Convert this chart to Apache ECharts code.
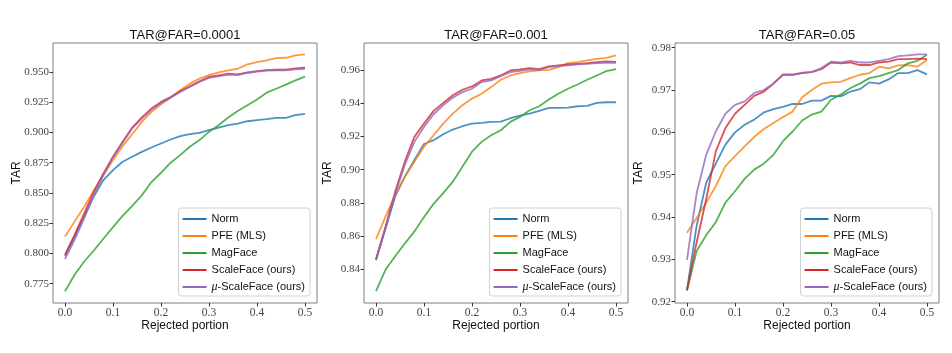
<!DOCTYPE html>
<html>
<head>
<meta charset="utf-8">
<script src="https://cdn.jsdelivr.net/npm/echarts@6/dist/echarts.min.js"></script>
<style>
  html, body { margin: 0; padding: 0; background: #fff; }
  #chart { width: 952px; height: 353px; }
</style>
</head>
<body>
<div id="chart"></div>
<script>
var rejected = [0, 0.02, 0.04, 0.06, 0.08, 0.10, 0.12, 0.14, 0.16, 0.18, 0.20, 0.22, 0.24,
                0.26, 0.28, 0.30, 0.32, 0.34, 0.36, 0.38, 0.40, 0.42, 0.44, 0.46, 0.48, 0.50]
var methods = ["Norm", "PFE (MLS)", "MagFace", "ScaleFace (ours)", "μ-ScaleFace (ours)"]
var colors = ["#1f77b4", "#ff7f0e", "#2ca02c", "#d62728", "#9467bd"]
var titles = ["TAR@FAR=0.0001", "TAR@FAR=0.001", "TAR@FAR=0.05"]

// TAR@FAR=0.0001
var norm1 = [0.798, 0.814, 0.8305, 0.847, 0.8607, 0.8689, 0.8758, 0.8799, 0.884, 0.8876, 0.8909, 0.8942, 0.897,
             0.8986, 0.8997, 0.9019, 0.9041, 0.906, 0.9074, 0.9093, 0.9102, 0.911, 0.9121, 0.9121, 0.9143, 0.9154]
var pfe1 = [0.814, 0.8263, 0.8387, 0.8519, 0.8648, 0.8772, 0.8887, 0.8986, 0.9088, 0.917, 0.9233, 0.9288, 0.9349,
            0.9404, 0.9445, 0.9475, 0.9497, 0.9514, 0.9527, 0.9563, 0.9582, 0.9596, 0.9615, 0.9618, 0.9637, 0.9646]
var mag1 = [0.7686, 0.7824, 0.7933, 0.8024, 0.8121, 0.8217, 0.831, 0.8393, 0.848, 0.859, 0.8667, 0.875, 0.8813,
            0.8882, 0.8937, 0.9005, 0.906, 0.9124, 0.9178, 0.9225, 0.9272, 0.9329, 0.9362, 0.9396, 0.9431, 0.9462]
var scale1 = [0.7989, 0.8153, 0.8332, 0.8511, 0.8662, 0.8799, 0.8923, 0.9041, 0.9124, 0.9198, 0.9253, 0.9294, 0.9341,
              0.9382, 0.9423, 0.9459, 0.9473, 0.9486, 0.9481, 0.9497, 0.9508, 0.9516, 0.9519, 0.9519, 0.953, 0.9536]
var mu1 = [0.7953, 0.8112, 0.8291, 0.8483, 0.8648, 0.8794, 0.8915, 0.9033, 0.9115, 0.9189, 0.9244, 0.9288, 0.9335,
           0.9376, 0.9418, 0.9451, 0.9464, 0.9478, 0.9475, 0.9492, 0.9503, 0.9511, 0.9514, 0.9514, 0.9522, 0.9527]

// TAR@FAR=0.001
var norm2 = [0.846, 0.8649, 0.8839, 0.8958, 0.9058, 0.9154, 0.9177, 0.9213, 0.9241, 0.9261, 0.9277, 0.9281, 0.9287,
             0.9289, 0.9309, 0.9325, 0.9337, 0.9353, 0.9371, 0.9371, 0.9373, 0.9381, 0.9383, 0.9401, 0.9405, 0.9405]
var pfe2 = [0.8583, 0.8719, 0.8849, 0.8958, 0.9048, 0.9138, 0.9207, 0.9277, 0.9337, 0.9387, 0.9427, 0.9456, 0.9496,
            0.954, 0.9566, 0.958, 0.959, 0.9596, 0.96, 0.9616, 0.964, 0.9646, 0.9656, 0.9666, 0.9672, 0.9686]
var mag2 = [0.8271, 0.84, 0.848, 0.8556, 0.8629, 0.8715, 0.8795, 0.8859, 0.8928, 0.9018, 0.9108, 0.9167, 0.9207,
            0.9237, 0.9287, 0.9317, 0.9357, 0.9381, 0.9421, 0.9456, 0.9486, 0.9512, 0.954, 0.9566, 0.9592, 0.9604]
var scale2 = [0.846, 0.8659, 0.8868, 0.9048, 0.9197, 0.9277, 0.9353, 0.9401, 0.9447, 0.948, 0.95, 0.9536, 0.9546,
              0.9566, 0.9596, 0.9602, 0.961, 0.9604, 0.962, 0.9626, 0.9632, 0.9636, 0.964, 0.9646, 0.965, 0.9648]
var mu2 = [0.8456, 0.8649, 0.8855, 0.9028, 0.9167, 0.9257, 0.9333, 0.9387, 0.9433, 0.9466, 0.9486, 0.9526, 0.9536,
           0.9562, 0.9586, 0.9594, 0.9602, 0.96, 0.9616, 0.9622, 0.9626, 0.9632, 0.9636, 0.964, 0.9642, 0.9642]

// TAR@FAR=0.05
var norm3 = [0.9228, 0.9379, 0.9481, 0.9526, 0.9571, 0.96, 0.9618, 0.963, 0.9647, 0.9655, 0.966, 0.9667, 0.9667,
             0.9675, 0.9675, 0.9686, 0.9685, 0.9696, 0.9702, 0.9718, 0.9715, 0.9725, 0.974, 0.974, 0.9747, 0.9737]
var pfe3 = [0.9363, 0.9398, 0.9434, 0.9473, 0.952, 0.9544, 0.9567, 0.9589, 0.9608, 0.9622, 0.9636, 0.9649, 0.9683,
            0.97, 0.9715, 0.9718, 0.9719, 0.9728, 0.9736, 0.974, 0.9755, 0.9751, 0.9758, 0.9759, 0.9755, 0.9771]
var mag3 = [0.9226, 0.932, 0.9357, 0.9388, 0.9434, 0.9461, 0.949, 0.9512, 0.9526, 0.9547, 0.9579, 0.9602, 0.9628,
            0.9642, 0.9649, 0.9677, 0.9689, 0.9704, 0.9715, 0.9728, 0.9733, 0.974, 0.9747, 0.9763, 0.9769, 0.9783]
var scale3 = [0.9228, 0.934, 0.9442, 0.9555, 0.961, 0.9644, 0.9665, 0.9686, 0.9696, 0.9715, 0.9736, 0.9736, 0.974,
              0.9742, 0.9749, 0.9765, 0.9763, 0.9765, 0.9759, 0.9759, 0.9765, 0.9767, 0.9773, 0.9773, 0.9774, 0.9773]
var mu3 = [0.9299, 0.9456, 0.9547, 0.9602, 0.9644, 0.9665, 0.9673, 0.9693, 0.97, 0.9715, 0.9737, 0.9736, 0.9741,
           0.9743, 0.9752, 0.9767, 0.9765, 0.9769, 0.9765, 0.9765, 0.9769, 0.9773, 0.978, 0.9782, 0.9784, 0.9784]

var xTicks = [0, 0.1, 0.2, 0.3, 0.4, 0.5]
var yTicks1 = [0.775, 0.8, 0.825, 0.85, 0.875, 0.9, 0.925, 0.95]
var yTicks2 = [0.84, 0.86, 0.88, 0.9, 0.92, 0.94, 0.96]
var yTicks3 = [0.92, 0.93, 0.94, 0.95, 0.96, 0.97, 0.98]

var panels = [
    { lines: [norm1, pfe1, mag1, scale1, mu1], ticks: yTicks1, min: 0.759, max: 0.974, digits: 3, left: 53 },
    { lines: [norm2, pfe2, mag2, scale2, mu2], ticks: yTicks2, min: 0.8199, max: 0.9761, digits: 2, left: 364 },
    { lines: [norm3, pfe3, mag3, scale3, mu3], ticks: yTicks3, min: 0.9197, max: 0.9811, digits: 2, left: 675 },
]

var serif = "'Liberation Serif', 'DejaVu Serif', serif"
var sans = "'Liberation Sans', 'DejaVu Sans', sans-serif"

var chart = echarts.init(document.querySelector("#chart"))

var option = {
    animation: false,
    title: [],
    grid: [],
    xAxis: [],
    yAxis: [],
    legend: [],
    series: [],
}

panels.forEach((p, k) => {
    option.title.push({
        text: titles[k],
        left: p.left + 132,
        top: 29,
        padding: 0,
        textAlign: "center",
        textStyle: { fontFamily: sans, fontSize: 13, fontWeight: "normal", color: "#111" },
    })
    option.grid.push({
        left: p.left, top: 43, width: 264, height: 260,
        show: true, borderColor: "#7f7f7f", borderWidth: 1, backgroundColor: "#fff",
    })
    option.xAxis.push({
        type: "value", gridIndex: k, min: -0.025, max: 0.525,
        name: "Rejected portion", nameLocation: "middle", nameGap: 17, nameMoveOverlap: false,
        nameTextStyle: { fontFamily: sans, fontSize: 12, color: "#111" },
        axisLine: { show: false, onZero: false },
        splitLine: { show: false },
        axisTick: { show: true, length: 3.5, customValues: xTicks, lineStyle: { color: "#333" } },
        axisLabel: {
            customValues: xTicks, margin: 4,
            fontFamily: serif, fontSize: 11.5, color: "#444",
            formatter: (v) => v.toFixed(1),
        },
    })
    option.yAxis.push({
        type: "value", gridIndex: k, min: p.min, max: p.max,
        name: "TAR", nameLocation: "middle", nameGap: 30, nameMoveOverlap: false,
        nameTextStyle: { fontFamily: sans, fontSize: 12, color: "#111" },
        axisLine: { show: false, onZero: false },
        splitLine: { show: false },
        axisTick: { show: true, length: 3.5, customValues: p.ticks, lineStyle: { color: "#333" } },
        axisLabel: {
            customValues: p.ticks, margin: 4,
            fontFamily: serif, fontSize: 11, color: "#444",
            formatter: (v) => v.toFixed(p.digits),
        },
    })
    option.legend.push({
        orient: "vertical",
        right: 952 - (p.left + 257), top: 208,
        padding: [5, 5, 3, 4],
        itemGap: 5,
        itemWidth: 24, itemHeight: 2,
        icon: "rect",
        borderColor: "#d0d0d0", borderWidth: 1, borderRadius: 3,
        backgroundColor: "rgba(255,255,255,0.85)",
        data: methods,
        textStyle: {
            fontFamily: sans, fontSize: 11, color: "#111", lineHeight: 12,
            rich: { i: { fontFamily: serif, fontStyle: "italic", fontSize: 12, color: "#111" } },
        },
        formatter: (name) => name.replace("μ", "{i|μ}"),
    })
    p.lines.forEach((vals, i) => {
        option.series.push({
            name: methods[i],
            type: "line",
            xAxisIndex: k, yAxisIndex: k,
            symbol: "none",
            color: colors[i],
            lineStyle: { width: 1.8, opacity: 0.8 },
            data: rejected.map((r, j) => [r, vals[j]]),
        })
    })
})

chart.setOption(option)
</script>
</body>
</html>
